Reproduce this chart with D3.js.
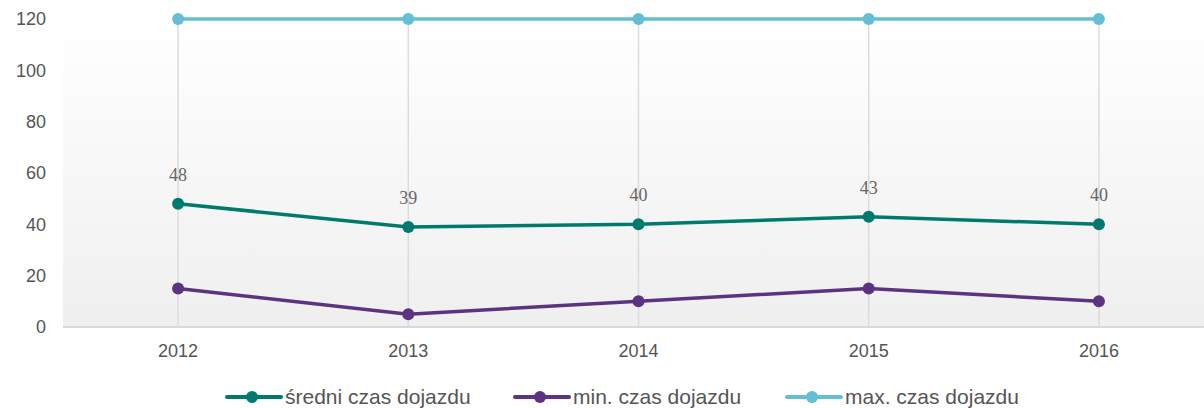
<!DOCTYPE html>
<html lang="pl">
<head>
<meta charset="UTF-8">
<title>czas dojazdu</title>
<script src="https://d3js.org/d3.v7.min.js"></script>
<style>
    body { margin: 0; background: #fff; }
    text { font-family: "Liberation Sans", Arial, sans-serif; fill: #555; }
    text.lbl { font-family: "Liberation Serif", "DejaVu Serif", "Times New Roman", serif; fill: #666; }
</style>
</head>
<body>
<div id="chart"></div>
<script>
    // dane
    const years = ["2012", "2013", "2014", "2015", "2016"];
    const avgTime = [48, 39, 40, 43, 40];
    const minTime = [15, 5, 10, 15, 10];
    const maxTime = [120, 120, 120, 120, 120];
    const yTicks = [0, 20, 40, 60, 80, 100, 120];
    const seriesNames = ["średni czas dojazdu", "min. czas dojazdu", "max. czas dojazdu"];
    const colors = ["#007a6c", "#5c3282", "#63bed6"];

    const width = 1204, height = 408;
    const plotLeft = 63, plotRight = 1214, plotTop = 19, plotBottom = 327;

    const svg = d3.select("#chart").append("svg")
        .attr("width", width)
        .attr("height", height);

    const x = d3.scaleBand().domain(years).range([plotLeft, plotRight]);
    const y = d3.scaleLinear().domain([0, 120]).range([plotBottom, plotTop]);

    // tlo z gradientem
    const grad = svg.append("defs").append("linearGradient")
        .attr("id", "bg").attr("x1", 0).attr("y1", 0).attr("x2", 0).attr("y2", 1);
    grad.append("stop").attr("offset", "0%").attr("stop-color", "#ffffff");
    grad.append("stop").attr("offset", "100%").attr("stop-color", "#efefef");

    svg.append("rect")
        .attr("x", plotLeft).attr("y", plotTop)
        .attr("width", plotRight - plotLeft).attr("height", plotBottom - plotTop)
        .attr("fill", "url(#bg)");

    // pionowe linie siatki
    svg.selectAll(".grid").data(years).enter().append("line")
        .attr("x1", d => x(d) + x.bandwidth() / 2)
        .attr("x2", d => x(d) + x.bandwidth() / 2)
        .attr("y1", plotTop).attr("y2", plotBottom)
        .attr("stroke", "#dcdcdc").attr("stroke-width", 1.5);

    svg.append("line")
        .attr("x1", plotLeft).attr("x2", plotRight)
        .attr("y1", plotBottom).attr("y2", plotBottom)
        .attr("stroke", "#d9d9d9").attr("stroke-width", 2);

    // os Y
    svg.selectAll(".ytick").data(yTicks).enter().append("text")
        .attr("x", 46).attr("y", d => y(d))
        .attr("dy", "0.35em")
        .attr("text-anchor", "end")
        .style("font-size", "18px")
        .text(d => d);

    // os X
    svg.selectAll(".xtick").data(years).enter().append("text")
        .attr("x", d => x(d) + x.bandwidth() / 2)
        .attr("y", 357)
        .attr("text-anchor", "middle")
        .style("font-size", "18px")
        .text(d => d);

    const series = [avgTime, minTime, maxTime];
    const line = d3.line()
        .x((d, i) => x(years[i]) + x.bandwidth() / 2)
        .y(d => y(d));

    series.forEach((vals, k) => {
        svg.append("path")
            .datum(vals)
            .attr("d", line)
            .attr("fill", "none")
            .attr("stroke", colors[k])
            .attr("stroke-width", 3.5);
        svg.selectAll(".dot" + k).data(vals).enter().append("circle")
            .attr("cx", (d, i) => x(years[i]) + x.bandwidth() / 2)
            .attr("cy", d => y(d))
            .attr("r", 6)
            .attr("fill", colors[k]);
    });

    // etykiety sredniego czasu
    svg.selectAll(".lbl").data(avgTime).enter().append("text")
        .attr("class", "lbl")
        .attr("x", (d, i) => x(years[i]) + x.bandwidth() / 2)
        .attr("y", d => y(d) - 23)
        .attr("text-anchor", "middle")
        .style("font-size", "18px")
        .text(d => d);

    // legenda
    const legendX = [227, 515, 787];
    const lg = svg.selectAll(".leg").data(seriesNames).enter().append("g")
        .attr("transform", (d, i) => "translate(" + legendX[i] + ",397)");
    lg.append("line")
        .attr("x1", 0).attr("x2", 54).attr("y1", 0).attr("y2", 0)
        .attr("stroke", (d, i) => colors[i]).attr("stroke-width", 4)
        .attr("stroke-linecap", "round");
    lg.append("circle")
        .attr("cx", 25).attr("cy", 0).attr("r", 6)
        .attr("fill", (d, i) => colors[i]);
    lg.append("text")
        .attr("x", 58).attr("y", 0).attr("dy", "0.35em")
        .style("font-size", "21px")
        .text(d => d);
</script>
</body>
</html>
